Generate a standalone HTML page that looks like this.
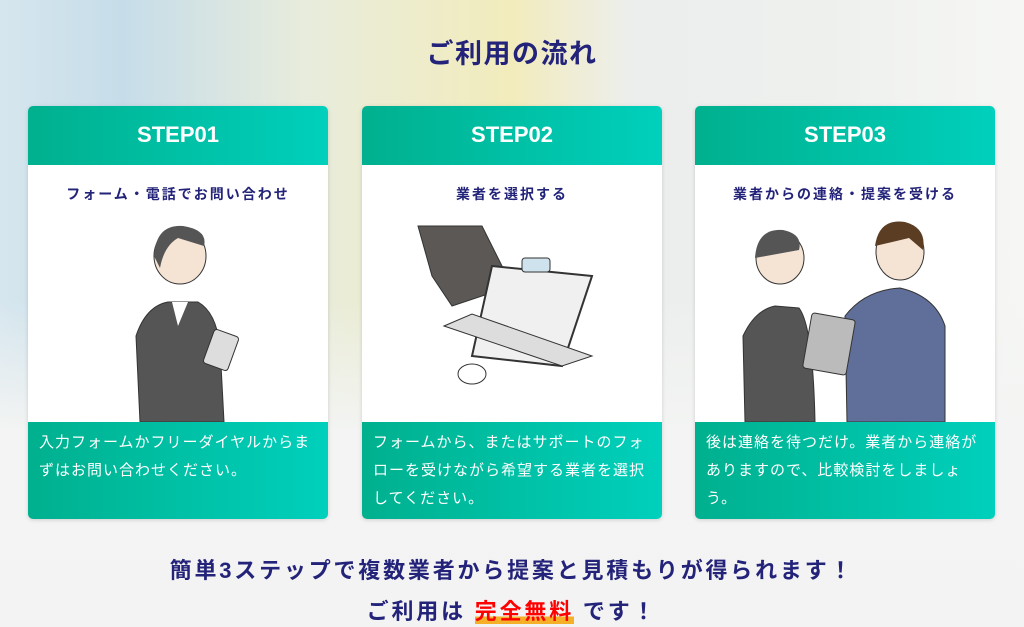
<!DOCTYPE html>
<html><head><meta charset="utf-8"><style>
*{margin:0;padding:0;box-sizing:border-box}
body{width:1024px;height:627px;overflow:hidden;font-family:"Liberation Sans","Noto Sans CJK JP",sans-serif;position:relative;
background:linear-gradient(90deg,#d6e6ee 0%,#c6dde9 12%,#e8ecdc 30%,#f2ecbc 50%,#eceeee 62%,#eef0ee 80%,#f6f7f4 100%);}
.bg2{position:absolute;left:0;top:300px;width:1024px;height:327px;background:linear-gradient(180deg,rgba(244,245,244,0),#f3f4f3 40%,#f3f3f3)}
h1{position:absolute;top:32px;width:100%;text-align:center;font-size:27px;letter-spacing:1.5px;color:#23237a;font-weight:bold}
.card{position:absolute;top:106px;width:300px;height:413px;border-radius:5px;overflow:hidden;background:#fff;box-shadow:0 1px 4px rgba(0,0,0,.15)}
.hd{height:59px;background:linear-gradient(90deg,#00b08e,#00d0bc);color:#fff;font-weight:bold;font-size:22px;text-align:center;line-height:57px}
.sub{text-align:center;color:#23237a;font-weight:bold;font-size:14px;letter-spacing:2px;margin-top:19px}
.ft{position:absolute;top:316px;left:0;width:300px;height:97px;background:linear-gradient(90deg,#00b08e,#00d0bc);color:#fff;font-size:15px;line-height:28px;padding:7px 8px 0 11px;letter-spacing:1px}
svg{position:absolute;left:0;top:110px}
.b1{position:absolute;top:553px;width:100%;text-align:center;font-size:22px;letter-spacing:2.8px;font-weight:bold;color:#23237a}
.b2{position:absolute;top:594px;width:100%;text-align:center;font-size:22px;letter-spacing:2.8px;font-weight:bold;color:#23237a}
.red{color:#f00;background:linear-gradient(180deg,transparent 70%,#f5b02a 70%)}
</style></head><body>
<div class="bg2"></div>
<h1>ご利用の流れ</h1>
<div class="card" style="left:28px"><div class="hd">STEP01</div><div class="sub">フォーム・電話でお問い合わせ</div>
<svg width="300" height="206"><ellipse cx="152" cy="40" rx="26" ry="28" fill="#f5e3d4" stroke="#333"/><path d="M126 40 Q128 8 155 10 Q180 14 176 30 L150 22 Q136 30 132 52Z" fill="#555"/><path d="M112 206 L108 120 Q118 90 140 86 L170 86 Q188 96 192 130 L196 206Z" fill="#555" stroke="#333"/><path d="M144 86 L150 110 L160 86Z" fill="#fff"/><rect x="180" y="116" width="26" height="36" rx="3" fill="#ddd" stroke="#333" transform="rotate(20 193 134)"/></svg>
<div class="ft">入力フォームかフリーダイヤルからまずはお問い合わせください。</div></div>
<div class="card" style="left:362px"><div class="hd">STEP02</div><div class="sub">業者を選択する</div>
<svg width="300" height="206"><path d="M56 10 L120 10 L150 70 L90 90 L70 60 Z" fill="#5b5856" stroke="#333"/><path d="M230 60 L200 150 L110 140 L130 50Z" fill="#f0f0f0" stroke="#333" stroke-width="2"/><path d="M82 110 L200 150 L230 140 L110 98Z" fill="#ddd" stroke="#333"/><rect x="160" y="42" width="28" height="14" rx="3" fill="#cfe3ee" stroke="#333"/><ellipse cx="110" cy="158" rx="14" ry="10" fill="#fff" stroke="#333"/></svg>
<div class="ft">フォームから、またはサポートのフォローを受けながら希望する業者を選択してください。</div></div>
<div class="card" style="left:695px"><div class="hd">STEP03</div><div class="sub">業者からの連絡・提案を受ける</div>
<svg width="300" height="206"><ellipse cx="85" cy="42" rx="24" ry="26" fill="#f5e3d4" stroke="#333"/><path d="M60 42 Q62 12 88 14 Q108 18 104 34 Z" fill="#555"/><path d="M50 206 L48 120 Q60 94 80 90 L104 92 Q118 110 120 206Z" fill="#555" stroke="#333"/><ellipse cx="205" cy="36" rx="24" ry="28" fill="#f5e3d4" stroke="#333"/><path d="M180 30 Q184 2 210 6 Q232 12 228 34 L214 22 Z" fill="#5a3d22"/><path d="M152 206 L150 100 Q170 74 205 72 Q240 80 250 110 L250 206Z" fill="#5f6f9a" stroke="#333"/><rect x="112" y="100" width="44" height="56" rx="3" fill="#bbb" stroke="#333" transform="rotate(10 134 128)"/></svg>
<div class="ft">後は連絡を待つだけ。業者から連絡がありますので、比較検討をしましょう。</div></div>
<div class="b1">簡単3ステップで複数業者から提案と見積もりが得られます！</div>
<div class="b2">ご利用は <span class="red">完全無料</span> です！</div>
</body></html>
